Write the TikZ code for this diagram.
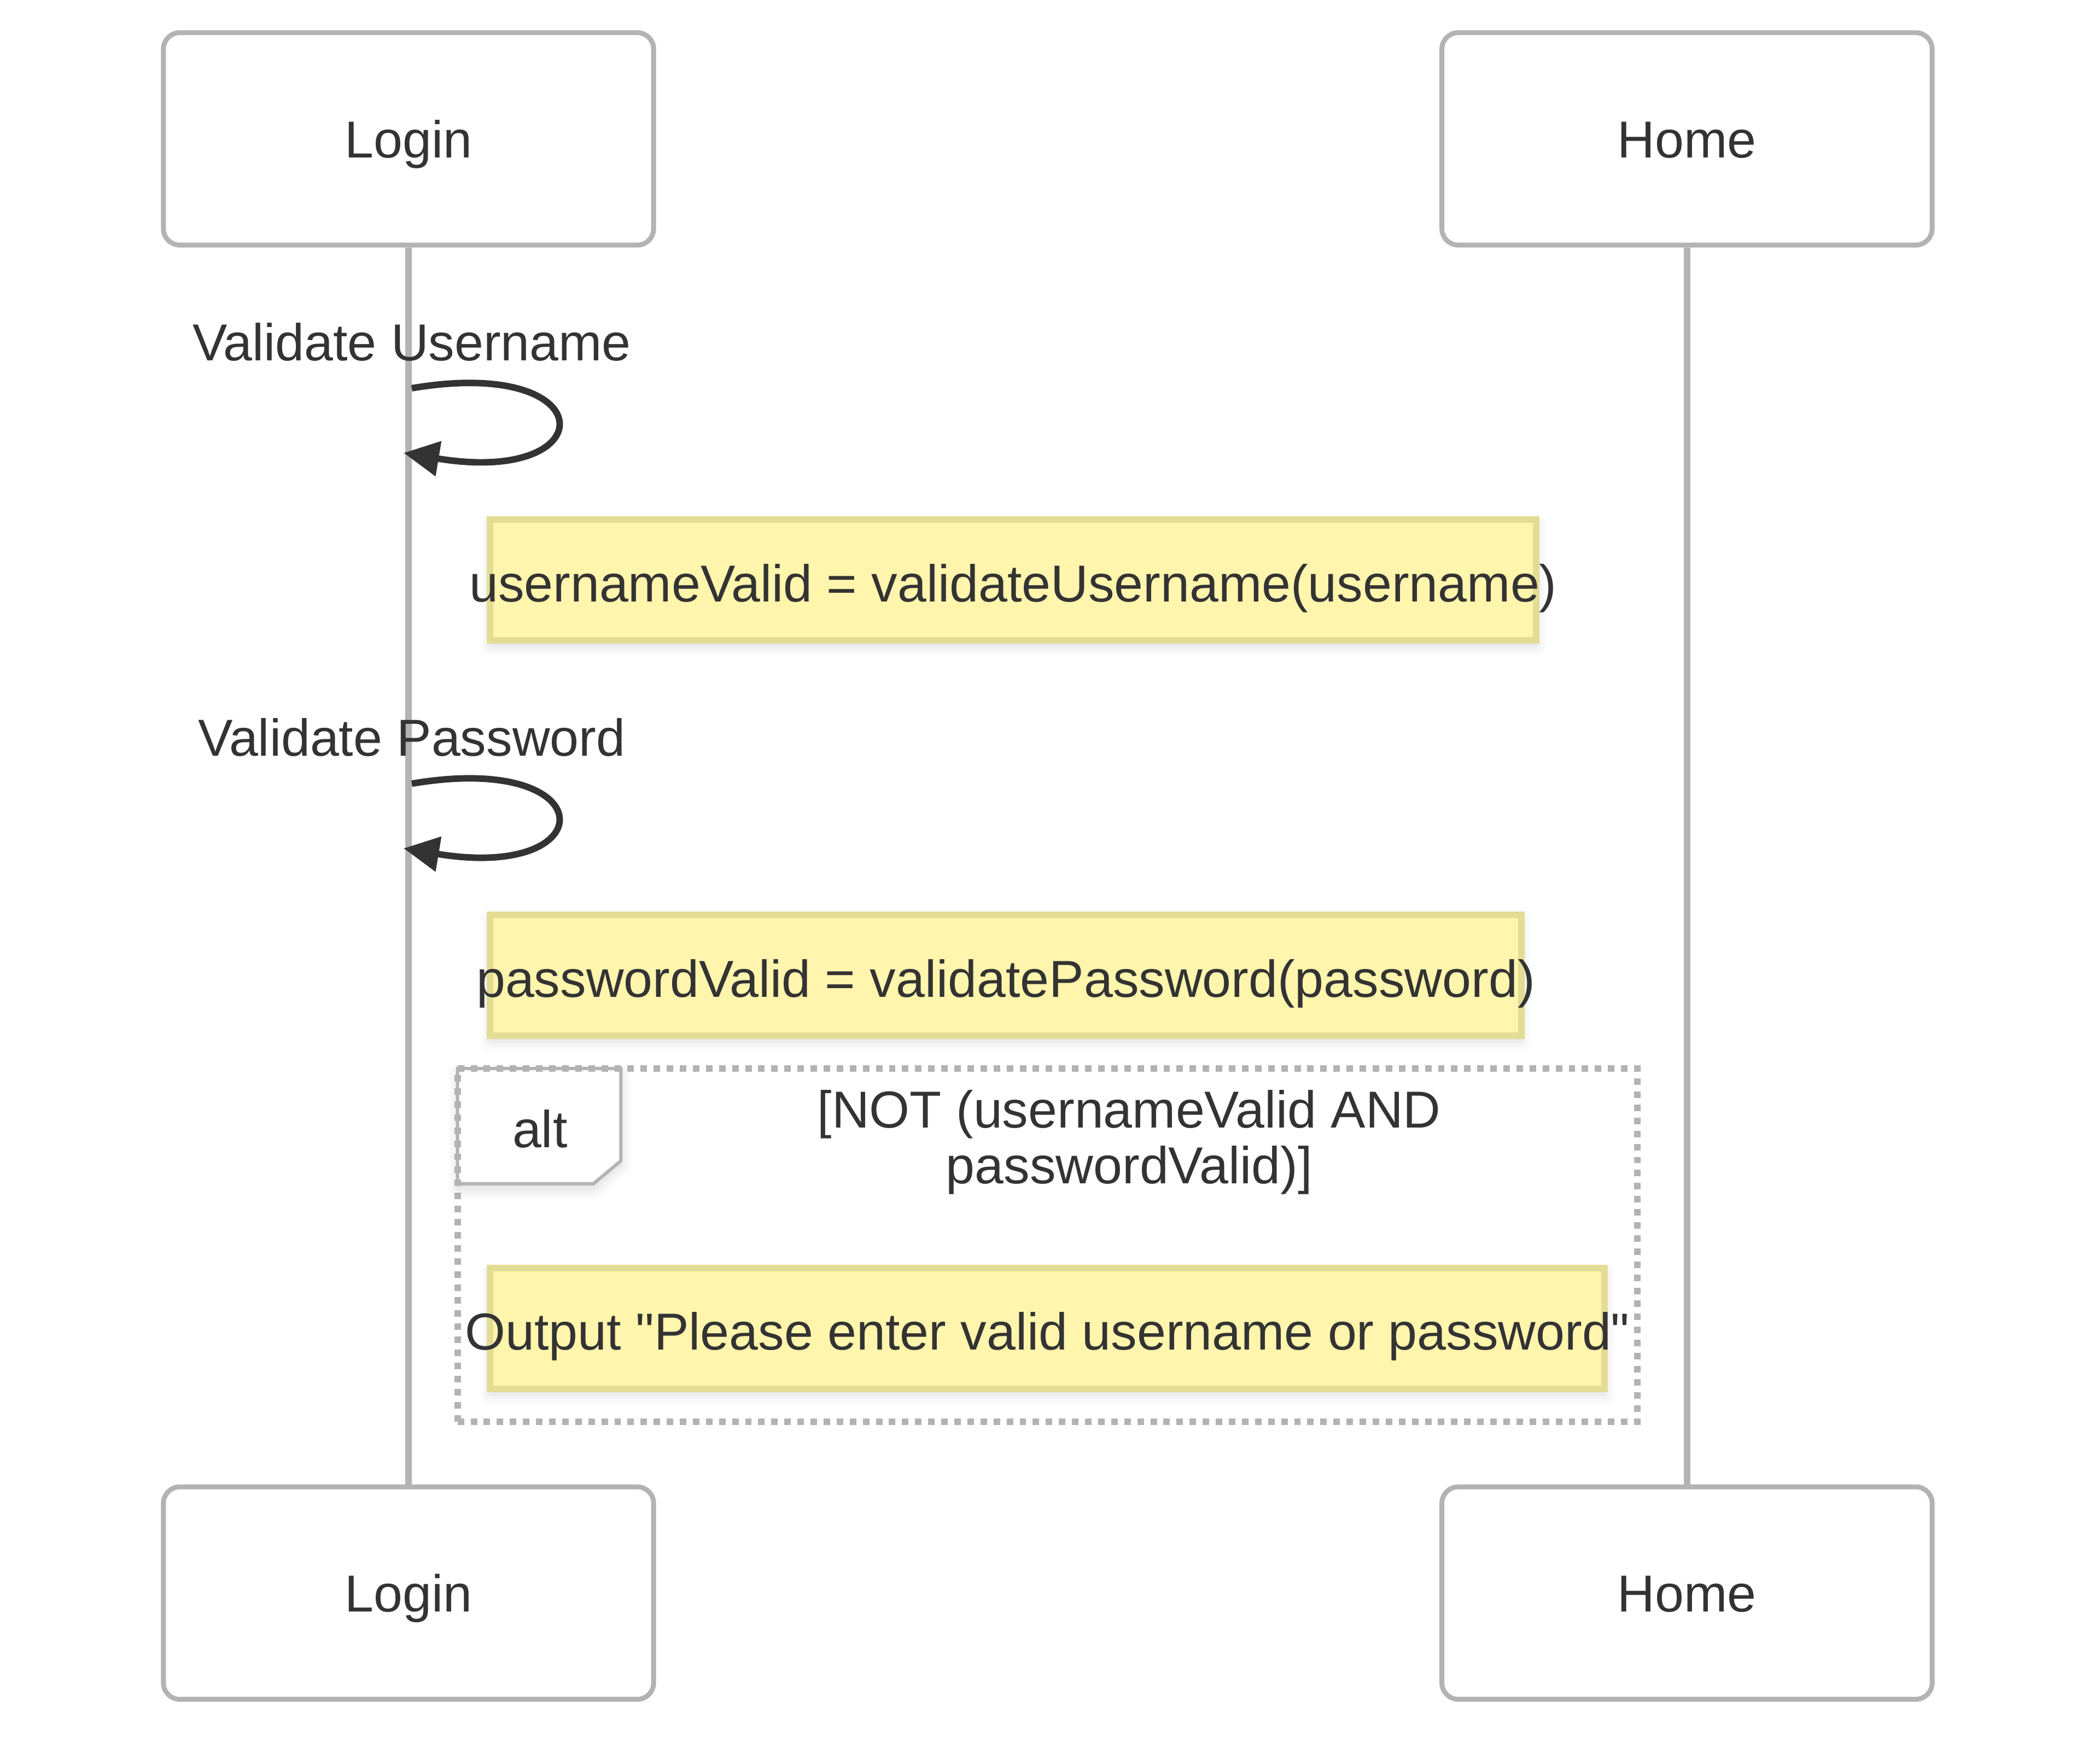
\documentclass[tikz,border=0pt]{standalone}
\usepackage{fontspec}
\newfontfamily\diagfont{Liberation Sans}
\usetikzlibrary{arrows.meta,shadows.blur}
\definecolor{ink}{HTML}{333333}
\definecolor{edge}{HTML}{B3B3B3}
\definecolor{notefill}{HTML}{FFF5AD}
\definecolor{noteline}{HTML}{E3DC94}

\begin{document}
\begin{tikzpicture}[
    x = 1.2pt, y = -1.2pt,
    every node/.style = {font = \diagfont\fontsize{19.1pt}{20.4pt}\selectfont, text = ink},
    actor/.style = {draw = edge, fill = white, line width = 1.8pt, rounded corners = 6pt,
        minimum width = 180pt, minimum height = 78pt, text height = 13.7pt, text depth = 0pt},
    lifeline/.style = {draw = edge, line width = 2.4pt},
    selfmsg/.style = {draw = ink, line width = 2.4pt, -{Triangle[length = 13pt, width = 12.5pt]}},
    softshadow/.style = {blur shadow = {shadow xshift = 0pt, shadow yshift = -2pt,
        shadow blur radius = 4pt, shadow opacity = 15}},
    note/.style = {draw = noteline, fill = notefill, line width = 2.4pt, minimum height = 44.4pt,
        inner sep = 0pt, text height = 15.9pt, text depth = 0pt, softshadow},
    altframe/.style = {draw = edge, line width = 2.4pt, dash pattern = on 2.4pt off 2.4pt},
    alttab/.style = {draw = edge, fill = white, line width = 1.2pt, softshadow}]

\useasboundingbox (0,0) rectangle (642.57,532.46);

\node[actor] (logintop) at (125,42.5) {Login};
\node[actor] (hometop) at (516.2,42.5) {Home};
\node[actor] (loginbot) at (125,487.5) {Login};
\node[actor] (homebot) at (516.2,487.5) {Home};

\draw[lifeline] (logintop) -- (loginbot);
\draw[lifeline] (hometop) -- (homebot);

\path (126,110.3) node[anchor = base] (lbluser) {Validate Username}
	  (126,231.3) node[anchor = base] (lblpass) {Validate Password};

\coordinate (user1) at (126,118.8);
\coordinate (user2) at (123.5,138.6);
\coordinate (pass1) at (126,239.8);
\coordinate (pass2) at (123.5,259.6);
\draw[selfmsg] (user1) .. controls +(59,-10) and +(61.5,10.2) .. (user2);
\draw[selfmsg] (pass1) .. controls +(59,-10) and +(61.5,10.2) .. (pass2);

\node[note, minimum width = 384pt] (noteuser) at (310,177.5)
	{\makebox[0pt]{usernameValid = validateUsername(username)}};
\node[note, minimum width = 378.6pt] (notepass) at (307.75,298.5)
	{\makebox[0pt]{passwordValid = validatePassword(password)}};

\filldraw[alttab] (140,327) -- (190,327) -- (190,355.2) -- (181.6,362.2) -- (140,362.2) -- cycle;
\node[altframe, minimum width = 433.2pt, minimum height = 129.6pt] (altbox) at (320.5,381) {};
\path (165.2,351.2) node[anchor = base] (altlbl) {alt}
	  (345.5,362.2) node[anchor = base, align = center] (altcond) {[NOT (usernameValid AND\\passwordValid)]};

\node[note, minimum width = 409.2pt] (noteout) at (320.5,406.5)
	{\makebox[0pt]{Output "Please enter valid username or password"}};
\end{tikzpicture}
\end{document}
